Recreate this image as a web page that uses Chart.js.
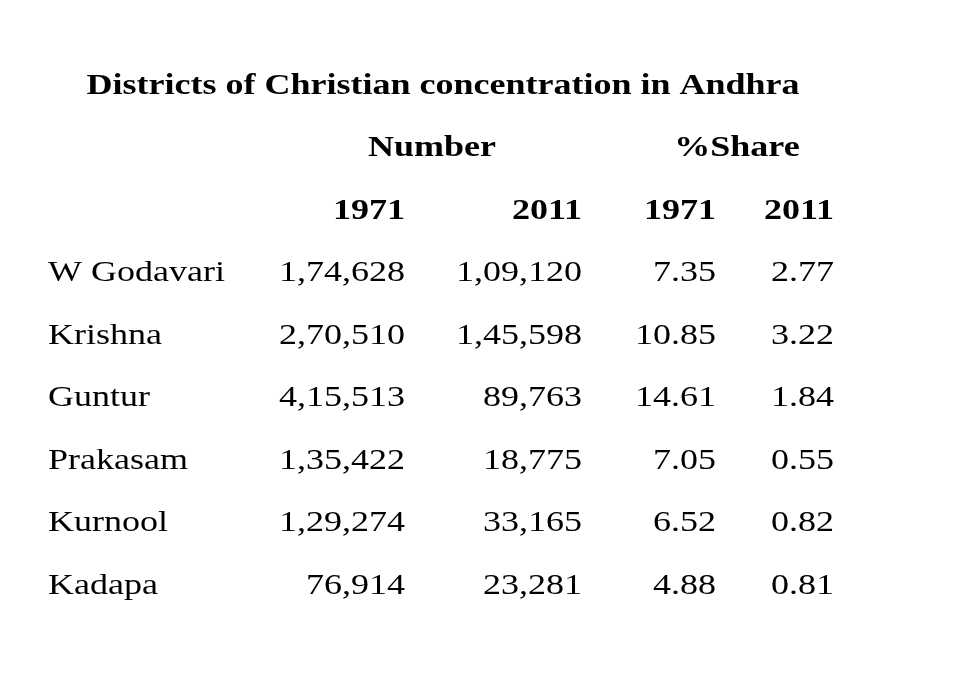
<!DOCTYPE html>
<html>
<head>
<meta charset="utf-8">
<script src="https://cdn.jsdelivr.net/npm/chart.js@4"></script>
<style>
  html, body { margin: 0; padding: 0; background: #fff; }
  #wrap { width: 968px; height: 681px; }
</style>
</head>
<body>
<div id="wrap"><canvas id="tbl"></canvas></div>
<script>
const title = 'Districts of Christian concentration in Andhra';
const groups = ['Number', '%Share'];
const years = ['1971', '2011', '1971', '2011'];
const districts = ['W Godavari', 'Krishna', 'Guntur', 'Prakasam', 'Kurnool', 'Kadapa'];
const number1971 = ['1,74,628', '2,70,510', '4,15,513', '1,35,422', '1,29,274', '76,914'];
const number2011 = ['1,09,120', '1,45,598', '89,763', '18,775', '33,165', '23,281'];
const share1971 = ['7.35', '10.85', '14.61', '7.05', '6.52', '4.88'];
const share2011 = ['2.77', '3.22', '1.84', '0.55', '0.82', '0.81'];

// layout (x positions of column right edges, in scale units = px)
const labelX = 48;
const colRight = [405, 582, 716, 834];
const groupCenter = [432, 737];
const titleX = 443;
const stretch = 1.2; // source text is rendered wider than Liberation Serif

const serif = '"Liberation Serif", "DejaVu Serif", serif';

function text(ctx, s, px, py) {
    ctx.save();
    ctx.translate(px, py);
    ctx.scale(stretch, 1);
    ctx.fillText(s, 0, 0);
    ctx.restore();
}

const tablePlugin = {
    id: 'tableText',
    afterDraw(chart) {
        const { ctx, scales: { x, y } } = chart;
        ctx.save();
        ctx.fillStyle = '#000';
        ctx.textBaseline = 'middle';

        ctx.font = 'bold 30px ' + serif;
        ctx.textAlign = 'center';
        text(ctx, title, x.getPixelForValue(titleX), y.getPixelForValue(0));

        groups.forEach((g, i) => text(ctx, g, x.getPixelForValue(groupCenter[i]), y.getPixelForValue(1)));

        ctx.textAlign = 'right';
        years.forEach((yr, i) => text(ctx, yr, x.getPixelForValue(colRight[i]), y.getPixelForValue(2)));

        ctx.font = '30px ' + serif;
        const cols = [number1971, number2011, share1971, share2011];
        districts.forEach((d, r) => {
            const py = y.getPixelForValue(3 + r);
            ctx.textAlign = 'left';
            text(ctx, d, x.getPixelForValue(labelX), py);
            ctx.textAlign = 'right';
            cols.forEach((c, i) => text(ctx, c[r], x.getPixelForValue(colRight[i]), py));
        });
        ctx.restore();
    }
};

new Chart(document.getElementById('tbl'), {
    type: 'scatter',
    data: { datasets: [{ data: [], pointRadius: 0 }] },
    options: {
        responsive: true,
        maintainAspectRatio: false,
        animation: false,
        layout: { padding: 0 },
        plugins: { legend: { display: false }, tooltip: { enabled: false } },
        scales: {
            x: { type: 'linear', min: 0, max: 968, display: false },
            y: { type: 'linear', reverse: true, min: -86 / 62.5, max: -86 / 62.5 + 681 / 62.5, display: false }
        }
    },
    plugins: [tablePlugin]
});
</script>
</body>
</html>
